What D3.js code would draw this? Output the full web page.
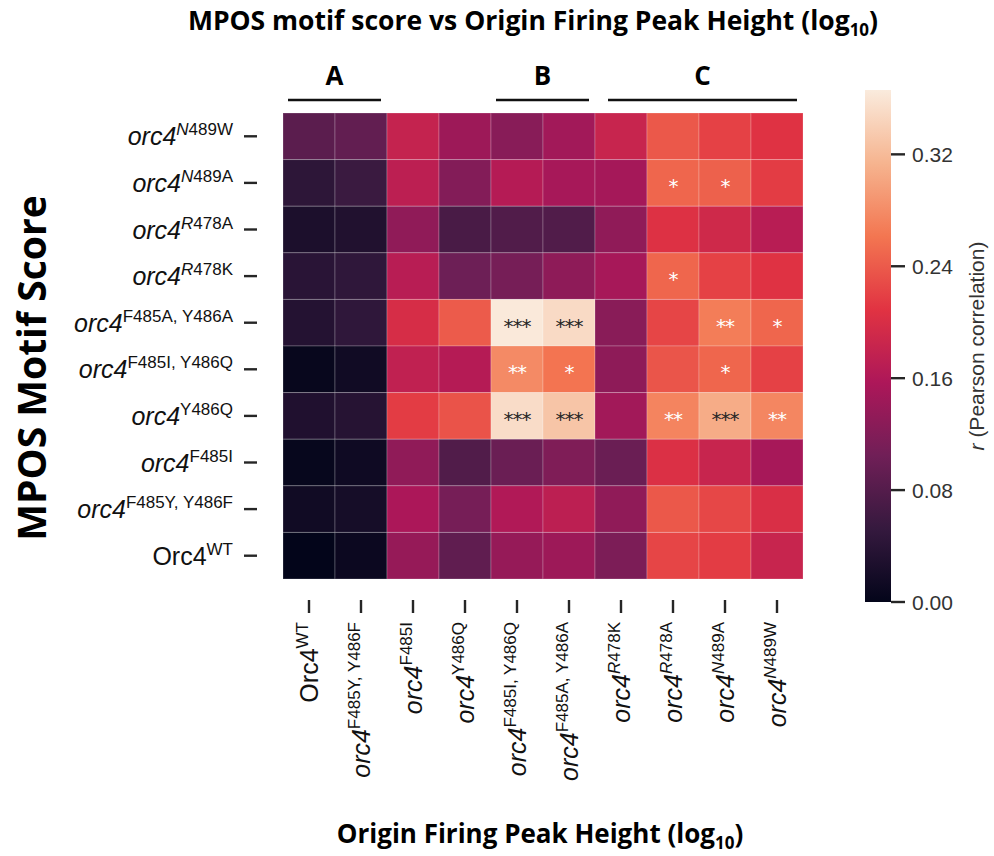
<!DOCTYPE html>
<html>
<head>
<meta charset="utf-8">
<script src="https://cdn.jsdelivr.net/npm/d3@7"></script>
<style>
  body { margin: 0; background: #fff; }
  text { font-family: "Liberation Sans", Arial, sans-serif; }
  .bold { font-family: "Open Sans", sans-serif; font-weight: 700; }
</style>
</head>
<body>
<script>
var width = 994;
var height = 856;

// genotypes along the x axis (left to right); y axis uses the reverse order
var genotypes = ["WT", "F485Y, Y486F", "F485I", "Y486Q", "F485I, Y486Q", "F485A, Y486A", "R478K", "R478A", "N489A", "N489W"];
var rowGenotypes = genotypes.slice().reverse();

// Pearson r, rows top -> bottom (N489W ... WT), columns left -> right (WT ... N489W)
var values = [
    [0.086, 0.092, 0.180, 0.143, 0.125, 0.147, 0.183, 0.238, 0.220, 0.207],
    [0.044, 0.057, 0.172, 0.121, 0.165, 0.152, 0.150, 0.249, 0.245, 0.216],
    [0.026, 0.031, 0.132, 0.070, 0.077, 0.077, 0.132, 0.205, 0.190, 0.168],
    [0.040, 0.046, 0.168, 0.102, 0.110, 0.130, 0.152, 0.249, 0.220, 0.207],
    [0.035, 0.046, 0.198, 0.240, 0.364, 0.350, 0.126, 0.223, 0.267, 0.249],
    [0.005, 0.015, 0.176, 0.165, 0.278, 0.260, 0.130, 0.236, 0.249, 0.220],
    [0.030, 0.037, 0.216, 0.234, 0.352, 0.330, 0.147, 0.273, 0.307, 0.275],
    [0.004, 0.013, 0.132, 0.077, 0.099, 0.117, 0.099, 0.203, 0.183, 0.152],
    [0.015, 0.020, 0.156, 0.110, 0.161, 0.172, 0.132, 0.238, 0.225, 0.201],
    [0.000, 0.009, 0.137, 0.090, 0.137, 0.143, 0.115, 0.223, 0.216, 0.183]
];

var stars = [
    ["", "", "", "", "", "", "", "", "", ""],
    ["", "", "", "", "", "", "", "*", "*", ""],
    ["", "", "", "", "", "", "", "", "", ""],
    ["", "", "", "", "", "", "", "*", "", ""],
    ["", "", "", "", "***", "***", "", "", "**", "*"],
    ["", "", "", "", "**", "*", "", "", "*", ""],
    ["", "", "", "", "***", "***", "", "**", "***", "**"],
    ["", "", "", "", "", "", "", "", "", ""],
    ["", "", "", "", "", "", "", "", "", ""],
    ["", "", "", "", "", "", "", "", "", ""]
];

var groups = [
    {name: "A", from: 0, to: 2},
    {name: "B", from: 4, to: 6},
    {name: "C", from: 6, to: 10}
];

var cbarTicks = [0.00, 0.08, 0.16, 0.24, 0.32];
var vmax = 0.366;

// seaborn "rocket" colormap, sampled
var rocketStops = [0, 1/7, 2/7, 3/7, 4/7, 5/7, 6/7, 1];
var rocketColors = ["#03051a", "#35193e", "#701f57", "#ad1759", "#e13342", "#f37651", "#f6b48f", "#faebdd"];

var color = d3.scaleLinear()
    .domain(rocketStops.map((t) => t * vmax))
    .range(rocketColors)
    .interpolate(d3.interpolateRgb)
    .clamp(true);

var svg = d3.select("body").append("svg")
    .attr("width", width)
    .attr("height", height);

var x = d3.scaleBand().domain(d3.range(10)).range([283, 803]);
var y = d3.scaleBand().domain(d3.range(10)).range([113, 579]);

// cells
var cells = [];
values.forEach((row, i) => row.forEach((v, j) => cells.push({i: i, j: j, v: v, s: stars[i][j]})));

svg.append("g").selectAll("rect")
    .data(cells)
    .enter().append("rect")
    .attr("x", (d) => x(d.j))
    .attr("y", (d) => y(d.i))
    .attr("width", x.bandwidth())
    .attr("height", y.bandwidth())
    .attr("fill", (d) => color(d.v))
    .attr("stroke", "rgba(255,255,255,0.22)")
    .attr("stroke-width", 1);

function lum(c) {
    var rgb = d3.rgb(c);
    var f = (u) => { u = u / 255; return u <= 0.03928 ? u / 12.92 : Math.pow((u + 0.055) / 1.055, 2.4); };
    return 0.2126 * f(rgb.r) + 0.7152 * f(rgb.g) + 0.0722 * f(rgb.b);
}

svg.append("g").selectAll("text")
    .data(cells.filter((d) => d.s))
    .enter().append("text")
    .attr("x", (d) => x(d.j) + x.bandwidth() / 2)
    .attr("y", (d) => y(d.i) + y.bandwidth() / 2 + 10)
    .attr("text-anchor", "middle")
    .style("font-family", "'DejaVu Sans', sans-serif")
    .style("font-size", "20px")
    .style("letter-spacing", "-1px")
    .attr("fill", (d) => lum(color(d.v)) > 0.408 ? "#262626" : "#ffffff")
    .text((d) => d.s);

// genotype label with superscript
function label(sel, g) {
    var wt = g === "WT";
    sel.append("tspan")
        .style("font-style", wt ? "normal" : "italic")
        .style("font-size", "25px")
        .text(wt ? "Orc4" : "orc4");
    var first = g.charAt(0);
    var italicFirst = first === "N" || first === "R";
    if (italicFirst) {
        sel.append("tspan").attr("dy", -10).style("font-size", "17px").style("font-style", "italic").text(first);
        sel.append("tspan").style("font-size", "17px").text(g.slice(1));
    } else {
        sel.append("tspan").attr("dy", -10).style("font-size", "17px").text(g);
    }
}

// y axis
var yt = svg.append("g");
rowGenotypes.forEach((g, i) => {
    var cy = y(i) + y.bandwidth() / 2;
    yt.append("line")
        .attr("x1", 244).attr("x2", 257)
        .attr("y1", cy).attr("y2", cy)
        .attr("stroke", "#262626").attr("stroke-width", 2.4);
    yt.append("text")
        .attr("x", 233).attr("y", cy + 9)
        .attr("text-anchor", "end")
        .attr("fill", "#111")
        .call(label, g);
});

// x axis
var xt = svg.append("g");
genotypes.forEach((g, j) => {
    var cx = x(j) + x.bandwidth() / 2;
    xt.append("line")
        .attr("x1", cx).attr("x2", cx)
        .attr("y1", 600).attr("y2", 613)
        .attr("stroke", "#262626").attr("stroke-width", 2.4);
    xt.append("text")
        .attr("transform", `translate(${cx + 9},622) rotate(-90)`)
        .attr("text-anchor", "end")
        .attr("fill", "#111")
        .call(label, g);
});

// group brackets
var gg = svg.append("g");
groups.forEach((grp) => {
    var x0 = x(grp.from) + 5;
    var x1 = (grp.to < 10 ? x(grp.to) : x.range()[1]) - 6;
    if (grp.name === "C") x0 += 8;
    gg.append("line")
        .attr("x1", x0).attr("x2", x1)
        .attr("y1", 100).attr("y2", 100)
        .attr("stroke", "#111").attr("stroke-width", 2.4);
    gg.append("text")
        .attr("class", "bold")
        .attr("x", (x0 + x1) / 2).attr("y", 85)
        .attr("text-anchor", "middle")
        .style("font-size", "26px")
        .text(grp.name);
});

// colorbar
var cb = d3.scaleLinear().domain([0, vmax]).range([602, 90]);
var defs = svg.append("defs");
var grad = defs.append("linearGradient")
    .attr("id", "cbar")
    .attr("x1", 0).attr("y1", 1).attr("x2", 0).attr("y2", 0);
rocketStops.forEach((t, k) => {
    grad.append("stop").attr("offset", t).attr("stop-color", rocketColors[k]);
});
svg.append("rect")
    .attr("x", 865).attr("y", 90)
    .attr("width", 26).attr("height", 512)
    .attr("fill", "url(#cbar)");

var cbAxis = svg.append("g");
cbarTicks.forEach((t) => {
    cbAxis.append("line")
        .attr("x1", 891).attr("x2", 905)
        .attr("y1", cb(t)).attr("y2", cb(t))
        .attr("stroke", "#262626").attr("stroke-width", 2.4);
    cbAxis.append("text")
        .attr("x", 912).attr("y", cb(t) + 7.5)
        .attr("fill", "#333")
        .style("font-size", "21px")
        .text(t.toFixed(2));
});

var cbl = svg.append("text")
    .attr("transform", "translate(984,346) rotate(-90)")
    .attr("text-anchor", "middle")
    .attr("fill", "#333")
    .style("font-size", "21px");
cbl.append("tspan").style("font-style", "italic").text("r");
cbl.append("tspan").text(" (Pearson correlation)");

// titles
var title = svg.append("text")
    .attr("class", "bold")
    .attr("x", 533).attr("y", 30)
    .attr("text-anchor", "middle")
    .style("font-size", "26.5px");
title.append("tspan").text("MPOS motif score vs Origin Firing Peak Height (log");
title.append("tspan").attr("dy", 6).style("font-size", "17px").text("10");
title.append("tspan").attr("dy", -6).text(")");

var xTitle = svg.append("text")
    .attr("class", "bold")
    .attr("x", 540).attr("y", 843)
    .attr("text-anchor", "middle")
    .style("font-size", "26px");
xTitle.append("tspan").text("Origin Firing Peak Height (log");
xTitle.append("tspan").attr("dy", 6).style("font-size", "17px").text("10");
xTitle.append("tspan").attr("dy", -6).text(")");

svg.append("text")
    .attr("class", "bold")
    .attr("transform", "translate(46,368) rotate(-90)")
    .attr("text-anchor", "middle")
    .style("font-size", "39px")
    .text("MPOS Motif Score");
</script>
</body>
</html>
